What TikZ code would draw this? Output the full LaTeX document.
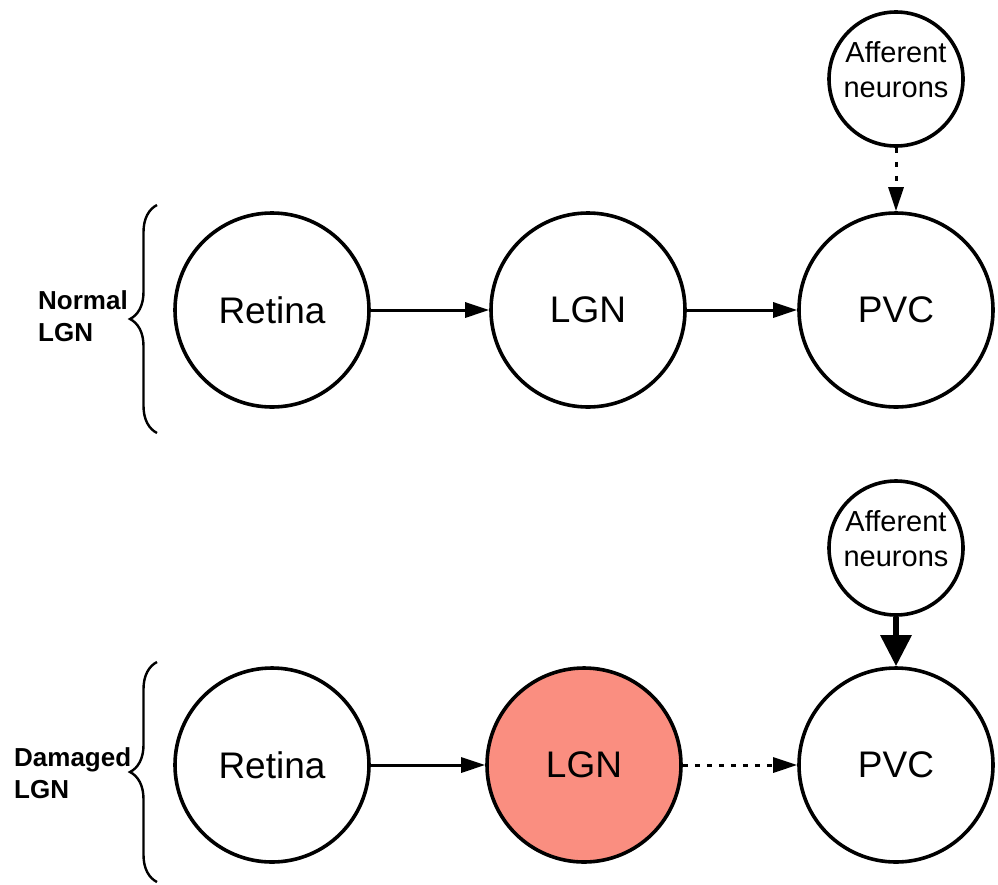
\documentclass[tikz,border=0pt]{standalone}
\usepackage{fontspec}
\setmainfont{Liberation Sans}
\usetikzlibrary{arrows.meta,decorations.pathreplacing}
\definecolor{damaged}{RGB}{250,142,128}
\begin{document}
\begin{tikzpicture}[x=1pt,y=-1pt,
  big/.style={circle,draw,line width=3.6pt,minimum size=194pt,inner sep=0pt,font=\fontsize{37}{40}\selectfont},
  small/.style={circle,draw,line width=3.6pt,minimum size=134pt,inner sep=0pt,align=center,font=\fontsize{29}{35}\selectfont},
  conn/.style={line width=3pt,-{Triangle[length=24pt,width=15pt]}},
  dotconn/.style={conn,dash pattern=on 5pt off 7pt},
  thickconn/.style={line width=6pt,-{Triangle[length=31pt,width=30pt]}},
  bracestyle/.style={line width=2.4pt,decorate,decoration={brace,amplitude=27pt,aspect=0.5}},
  grouplabel/.style={anchor=west,align=left,inner sep=0pt,font=\fontsize{26}{32}\selectfont\bfseries}]
\useasboundingbox (0,0) rectangle (998,884);
% top row
\node[big] (r1) at (272,310) {Retina};
\node[big] (l1) at (588,310) {LGN};
\node[big] (p1) at (896,310) {PVC};
\node[small] (a1) at (896,79) {Afferent\\neurons\\[-26pt]\strut};
\draw[conn] (r1) -- (l1);
\draw[conn] (l1) -- (p1);
\draw[dotconn,dash pattern=on 5pt off 9pt] (a1) -- (p1);
\coordinate (b1s) at (157,433);
\coordinate (b1e) at (157,205);
\draw[bracestyle] (b1s) -- (b1e);
\node[grouplabel] (n1) at (38,316) {Normal\\LGN};
% bottom row
\node[big] (r2) at (272,765) {Retina};
\node[big,fill=damaged] (l2) at (584,765) {LGN};
\node[big] (p2) at (896,765) {PVC};
\node[small] (a2) at (896,548) {Afferent\\neurons\\[-26pt]\strut};
\draw[conn] (r2) -- (l2);
\draw[dotconn] (l2) -- (p2);
\draw[thickconn] (a2) -- (p2);
\coordinate (b2s) at (157,882);
\coordinate (b2e) at (157,662);
\draw[bracestyle] (b2s) -- (b2e);
\node[grouplabel] (n2) at (14,773) {Damaged\\LGN};
\end{tikzpicture}
\end{document}
